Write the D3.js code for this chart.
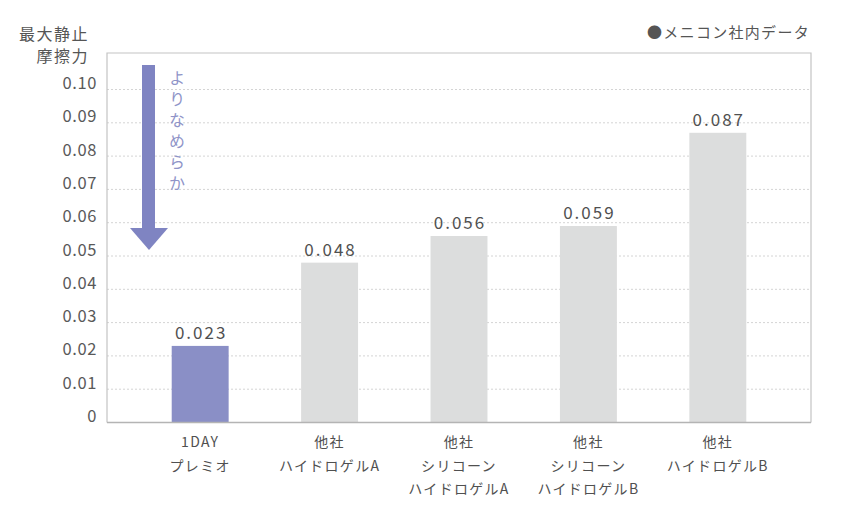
<!DOCTYPE html>
<html>
<head>
<meta charset="utf-8">
<script src="https://cdn.jsdelivr.net/npm/d3@7"></script>
<style>
  body { margin: 0; background: #fff; }
  svg text { font-family: "Noto Sans CJK JP", "Noto Sans", sans-serif; }
</style>
</head>
<body>
<script>
// data
const categories = ["1DAY\nプレミオ", "他社\nハイドロゲルA", "他社\nシリコーン\nハイドロゲルA", "他社\nシリコーン\nハイドロゲルB", "他社\nハイドロゲルB"];
const values = [0.023, 0.048, 0.056, 0.059, 0.087];
const valueLabels = ["0.023", "0.048", "0.056", "0.059", "0.087"];
const yTicks = [0, 0.01, 0.02, 0.03, 0.04, 0.05, 0.06, 0.07, 0.08, 0.09, 0.10];
const yTickLabels = ["0", "0.01", "0.02", "0.03", "0.04", "0.05", "0.06", "0.07", "0.08", "0.09", "0.10"];
const yTitle = ["最大静止", "摩擦力"];
const noteText = "●メニコン社内データ";
const arrowText = "よりなめらか";

const width = 856, height = 527;
const plot = {left: 107, right: 811, top: 53, bottom: 422.5};

const svg = d3.select("body")
  .append("svg")
  .attr("width", width)
  .attr("height", height);

const xScale = d3.scaleBand()
  .domain(categories)
  .range([plot.left, plot.right])
  .paddingInner(0.56)
  .paddingOuter(0.5);

const yScale = d3.scaleLinear()
  .domain([0, 0.1])
  .range([plot.bottom, 89.5]);

// grid lines
svg.append("g")
  .selectAll("line")
  .data(yTicks.slice(1))
  .enter()
  .append("line")
  .attr("x1", plot.left)
  .attr("x2", plot.right)
  .attr("y1", d => yScale(d))
  .attr("y2", d => yScale(d))
  .attr("stroke", "#d4d4d4")
  .attr("stroke-width", 1)
  .attr("stroke-dasharray", "2,2");

// frame
svg.append("path")
  .attr("d", `M${plot.left},${plot.bottom}V${plot.top}H${plot.right}V${plot.bottom}`)
  .attr("fill", "none")
  .attr("stroke", "#c4c4c4")
  .attr("stroke-width", 1.2);

// bars
svg.selectAll("rect.bar")
  .data(values)
  .enter()
  .append("rect")
  .attr("class", "bar")
  .attr("x", (d, i) => xScale(categories[i]))
  .attr("width", xScale.bandwidth())
  .attr("y", d => yScale(d))
  .attr("height", d => plot.bottom - yScale(d))
  .attr("fill", (d, i) => i == 0 ? "#8a8fc6" : "#dcdddd");

// axis line
svg.append("line")
  .attr("x1", plot.left)
  .attr("x2", plot.right)
  .attr("y1", plot.bottom)
  .attr("y2", plot.bottom)
  .attr("stroke", "#b4b4b4")
  .attr("stroke-width", 1.5);

// value labels
svg.selectAll("text.value")
  .data(values)
  .enter()
  .append("text")
  .attr("class", "value")
  .attr("x", (d, i) => xScale(categories[i]) + xScale.bandwidth() / 2 + 1)
  .attr("y", d => yScale(d) - 7)
  .attr("text-anchor", "middle")
  .attr("font-size", 17)
  .attr("letter-spacing", 2)
  .attr("fill", "#505050")
  .text((d, i) => valueLabels[i]);

// y tick labels
svg.selectAll("text.ytick")
  .data(yTicks)
  .enter()
  .append("text")
  .attr("class", "ytick")
  .attr("x", 97)
  .attr("y", d => yScale(d) - 0.5)
  .attr("text-anchor", "end")
  .attr("font-size", 16.5)
  .attr("letter-spacing", 0.6)
  .attr("fill", "#595959")
  .text((d, i) => yTickLabels[i]);

// y title
svg.selectAll("text.ytitle")
  .data(yTitle)
  .enter()
  .append("text")
  .attr("class", "ytitle")
  .attr("x", 89)
  .attr("y", (d, i) => 40 + i * 22)
  .attr("text-anchor", "end")
  .attr("font-size", 16)
  .attr("letter-spacing", 1.5)
  .attr("fill", "#555")
  .text(d => d);

// note
svg.append("text")
  .attr("x", 810)
  .attr("y", 38)
  .attr("text-anchor", "end")
  .attr("font-size", 15)
  .attr("letter-spacing", 1.3)
  .attr("fill", "#555")
  .text(noteText);

// x labels
categories.forEach((c, i) => {
  const cx = xScale(c) + xScale.bandwidth() / 2;
  svg.append("text")
    .attr("x", cx)
    .attr("y", 447)
    .attr("text-anchor", "middle")
    .attr("font-size", 14)
    .attr("letter-spacing", 1.3)
    .attr("fill", "#505050")
    .selectAll("tspan")
    .data(c.split("\n"))
    .enter()
    .append("tspan")
    .attr("x", cx)
    .attr("dy", (d, j) => j == 0 ? 0 : 23.5)
    .text(d => d);
});

// arrow
const arrow = svg.append("g");
arrow.append("rect")
  .attr("x", 142)
  .attr("y", 65)
  .attr("width", 13)
  .attr("height", 165)
  .attr("fill", "#7f84c2");
arrow.append("path")
  .attr("d", "M130,228L168,228L149,250Z")
  .attr("fill", "#7f84c2");

// vertical caption
svg.append("text")
  .attr("x", 177)
  .attr("y", 70)
  .style("writing-mode", "vertical-rl")
  .attr("font-size", 16)
  .attr("letter-spacing", 5)
  .attr("fill", "#8f94c8")
  .text(arrowText);
</script>
</body>
</html>
